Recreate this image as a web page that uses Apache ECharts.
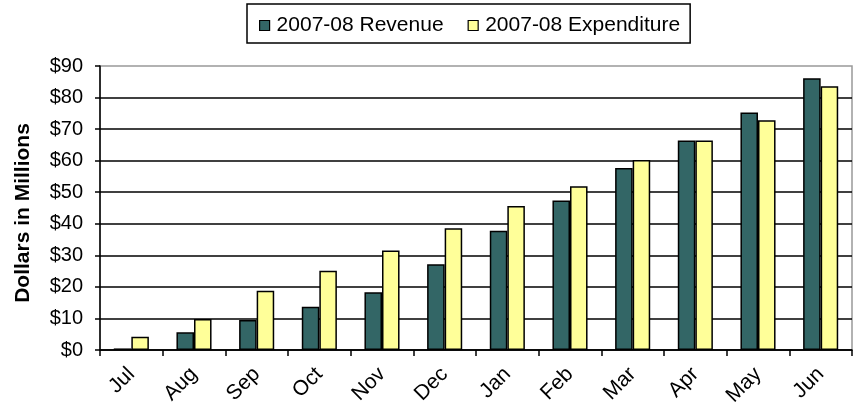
<!DOCTYPE html>
<html>
<head>
<meta charset="utf-8">
<style>
  html, body { margin: 0; padding: 0; background: #fff; }
  #chart { width: 860px; height: 411px; }
</style>
<script src="https://cdn.jsdelivr.net/npm/echarts@6/dist/echarts.min.js"></script>
</head>
<body>
<div id="chart"></div>
<script>
// Monthly cumulative figures, fiscal year 2007-08 (millions of dollars)
var months = ['Jul', 'Aug', 'Sep', 'Oct', 'Nov', 'Dec', 'Jan', 'Feb', 'Mar', 'Apr', 'May', 'Jun'];
var revenue = [0.5, 5.6, 9.5, 13.7, 18.3, 27.2, 37.8, 47.4, 57.7, 66.4, 75.3, 86.1];
var expenditure = [4.2, 9.8, 18.8, 25.1, 31.5, 38.6, 45.6, 51.9, 60.2, 66.4, 72.8, 83.6];
var seriesNames = ['2007-08 Revenue', '2007-08 Expenditure'];
var yAxisTitle = 'Dollars in Millions';

var FONT = 'Liberation Sans, Arial, sans-serif';
var chart = echarts.init(document.getElementById('chart'), null, { renderer: 'canvas' });

chart.setOption({
  animation: false,
  backgroundColor: '#ffffff',
  textStyle: { fontFamily: FONT },
  legend: {
    data: seriesNames,
    left: 247,
    top: 4,
    padding: [11, 10, 7, 12],
    itemGap: 24,
    itemWidth: 10,
    itemHeight: 10,
    icon: 'rect',
    borderColor: '#000',
    borderWidth: 1.5,
    borderRadius: 0,
    itemStyle: { borderColor: '#000', borderWidth: 1.2 },
    textStyle: { fontFamily: FONT, fontSize: 21, color: '#000', padding: [2, 0, 0, 2] }
  },
  grid: {
    left: 100,
    right: 8,
    top: 66,
    bottom: 61,
    show: true,
    borderColor: '#999',
    borderWidth: 1.5,
    containLabel: false
  },
  xAxis: {
    type: 'category',
    data: months,
    boundaryGap: true,
    axisLine: { lineStyle: { color: '#000', width: 1.5 } },
    axisTick: { show: true, alignWithLabel: false, length: 6, lineStyle: { color: '#000', width: 1.5 } },
    axisLabel: {
      rotate: 45,
      fontFamily: FONT,
      fontSize: 21,
      color: '#000',
      margin: 21
    },
    splitLine: { show: false }
  },
  yAxis: {
    type: 'value',
    min: 0,
    max: 90,
    interval: 10,
    name: yAxisTitle,
    nameLocation: 'middle',
    nameGap: 66,
    nameTextStyle: {
      fontFamily: FONT,
      fontSize: 21,
      fontWeight: 'bold',
      color: '#000',
      padding: [0, 10, 0, 0]
    },
    axisLine: { show: true, lineStyle: { color: '#000', width: 1.5 } },
    axisTick: { show: true, length: 5, inside: false, lineStyle: { color: '#000', width: 1.5 } },
    axisLabel: {
      fontFamily: FONT,
      fontSize: 20,
      color: '#000',
      margin: 17,
      formatter: function (v) { return '$' + v; }
    },
    splitLine: { show: true, showMaxLine: false, lineStyle: { color: '#000', width: 1.5 } }
  },
  series: [
    {
      name: seriesNames[0],
      type: 'bar',
      data: revenue,
      barGap: '0%',
      barCategoryGap: '44%',
      itemStyle: { color: '#336666', borderColor: '#000', borderWidth: 1.5 }
    },
    {
      name: seriesNames[1],
      type: 'bar',
      data: expenditure,
      itemStyle: { color: '#ffff99', borderColor: '#000', borderWidth: 1.5 }
    }
  ]
});
</script>
</body>
</html>
